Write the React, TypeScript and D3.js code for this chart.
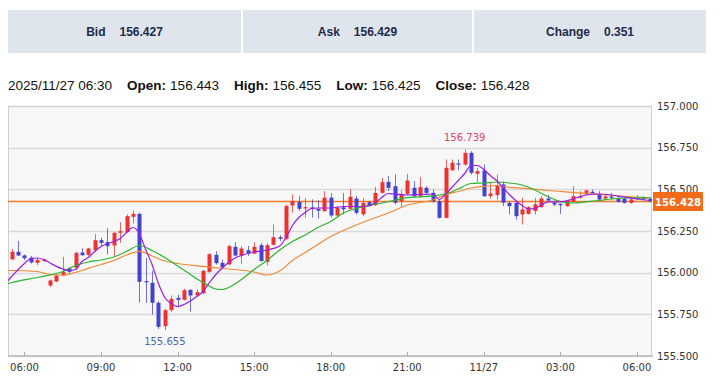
import React from "react";
import * as d3 from "d3";

const quoteLabels = ["Bid", "Ask", "Change"];
const quoteValues = ["156.427", "156.429", "0.351"];
const infoTime = "2025/11/27 06:30";
const infoLabels = ["Open:", "High:", "Low:", "Close:"];
const infoValues = ["156.443", "156.455", "156.425", "156.428"];
const yTicks = [155.5, 155.75, 156.0, 156.25, 156.5, 156.75, 157.0];

const startTime = new Date(2025, 10, 26, 5, 30);
const stepMinutes = 15;

const openV = [
  156.080, 156.125, 156.103, 156.090, 156.059, 156.069, 155.923, 155.947, 155.983, 156.025,
  156.029, 156.121, 156.107, 156.135, 156.195, 156.183, 156.163, 156.239, 156.243, 156.335,
  156.353, 155.949, 155.939, 155.819, 155.679, 155.775, 155.849, 155.837, 155.897, 155.863,
  155.877, 156.005, 156.107, 156.059, 156.050, 156.155, 156.103, 156.135, 156.115, 156.165,
  156.065, 156.167, 156.213, 156.203, 156.403, 156.425, 156.385, 156.392, 156.382, 156.370,
  156.450, 156.343, 156.392, 156.383, 156.445, 156.350, 156.423, 156.405, 156.479, 156.545,
  156.519, 156.429, 156.473, 156.509, 156.459, 156.509, 156.479, 156.429, 156.329, 156.615,
  156.655, 156.649, 156.719, 156.593, 156.613, 156.459, 156.465, 156.529, 156.419, 156.419,
  156.349, 156.353, 156.370, 156.393, 156.445, 156.419, 156.413, 156.399, 156.425, 156.449,
  156.469, 156.485, 156.473, 156.445, 156.457, 156.445, 156.445, 156.419, 156.449, 156.449,
  156.443,
];
const highV = [
  156.142, 156.190, 156.109, 156.100, 156.087, 156.083, 155.959, 155.989, 156.095, 156.033,
  156.125, 156.147, 156.149, 156.231, 156.209, 156.267, 156.243, 156.303, 156.349, 156.373,
  156.360, 156.089, 156.013, 155.829, 155.783, 155.863, 155.869, 155.903, 155.900, 155.900,
  156.017, 156.117, 156.129, 156.079, 156.169, 156.183, 156.159, 156.160, 156.183, 156.179,
  156.179, 156.289, 156.225, 156.409, 156.469, 156.459, 156.449, 156.440, 156.435, 156.489,
  156.477, 156.400, 156.478, 156.503, 156.460, 156.449, 156.430, 156.515, 156.569, 156.580,
  156.590, 156.493, 156.593, 156.549, 156.573, 156.519, 156.499, 156.440, 156.679, 156.679,
  156.679, 156.739, 156.729, 156.631, 156.649, 156.539, 156.589, 156.547, 156.425, 156.425,
  156.449, 156.399, 156.449, 156.459, 156.465, 156.433, 156.415, 156.433, 156.519, 156.489,
  156.499, 156.499, 156.489, 156.469, 156.479, 156.459, 156.453, 156.445, 156.465, 156.459,
  156.455,
];
const lowV = [
  156.075, 156.100, 156.075, 156.055, 156.045, 156.065, 155.913, 155.943, 155.979, 155.995,
  156.023, 156.099, 156.101, 156.129, 156.159, 156.109, 156.101, 156.179, 156.239, 156.295,
  155.820, 155.819, 155.749, 155.662, 155.655, 155.765, 155.793, 155.833, 155.765, 155.855,
  155.870, 155.999, 156.049, 156.025, 156.043, 156.099, 156.053, 156.100, 156.111, 156.065,
  156.043, 156.163, 156.190, 156.195, 156.360, 156.370, 156.330, 156.330, 156.326, 156.364,
  156.331, 156.330, 156.350, 156.378, 156.348, 156.338, 156.400, 156.399, 156.475, 156.490,
  156.410, 156.393, 156.465, 156.449, 156.455, 156.469, 156.419, 156.325, 156.325, 156.609,
  156.615, 156.639, 156.589, 156.543, 156.455, 156.445, 156.439, 156.400, 156.350, 156.318,
  156.289, 156.349, 156.349, 156.389, 156.425, 156.399, 156.353, 156.395, 156.421, 156.445,
  156.465, 156.473, 156.433, 156.439, 156.439, 156.421, 156.415, 156.413, 156.437, 156.435,
  156.425,
];
const closeV = [
  156.125, 156.103, 156.087, 156.061, 156.077, 156.079, 155.953, 155.983, 156.003, 156.005,
  156.119, 156.105, 156.145, 156.195, 156.179, 156.159, 156.239, 156.249, 156.339, 156.353,
  155.945, 155.943, 155.819, 155.675, 155.775, 155.843, 155.837, 155.895, 155.863, 155.883,
  156.011, 156.111, 156.057, 156.033, 156.159, 156.103, 156.145, 156.115, 156.155, 156.070,
  156.165, 156.213, 156.203, 156.400, 156.430, 156.383, 156.393, 156.382, 156.372, 156.450,
  156.343, 156.389, 156.380, 156.455, 156.359, 156.419, 156.403, 156.479, 156.543, 156.509,
  156.420, 156.473, 156.553, 156.459, 156.513, 156.479, 156.429, 156.329, 156.629, 156.659,
  156.649, 156.719, 156.599, 156.609, 156.459, 156.475, 156.525, 156.420, 156.399, 156.339,
  156.379, 156.393, 156.410, 156.445, 156.433, 156.409, 156.405, 156.429, 156.459, 156.459,
  156.493, 156.477, 156.439, 156.457, 156.449, 156.425, 156.419, 156.439, 156.441, 156.441,
  156.428,
];

// Moving averages at candle indices
const purpleIdx = [-1, 0, 2, 3, 4, 5, 6, 8, 9, 10, 11, 12, 13, 14, 16, 17, 18, 19, 20, 21, 22, 23, 24, 25, 26, 27, 28, 29, 30, 31, 32, 33, 34, 35, 36, 38, 40, 42, 43, 44, 45, 46, 47, 48, 50, 52, 54, 56, 57, 58, 59, 60, 62, 64, 66, 67, 68, 69, 70, 71, 72, 73, 74, 75, 76, 77, 78, 79, 80, 81, 82, 83, 84, 86, 88, 90, 92, 94, 96, 98, 100];
const purpleVal = [155.935, 155.977, 156.055, 156.085, 156.088, 156.079, 156.058, 156.022, 156.013, 156.019, 156.067, 156.091, 156.127, 156.157, 156.187, 156.205, 156.241, 156.271, 156.235, 156.139, 156.049, 155.935, 155.851, 155.815, 155.797, 155.809, 155.830, 155.857, 155.887, 155.941, 155.989, 156.028, 156.061, 156.088, 156.103, 156.124, 156.136, 156.160, 156.211, 156.283, 156.331, 156.361, 156.385, 156.388, 156.388, 156.397, 156.397, 156.400, 156.421, 156.451, 156.475, 156.472, 156.466, 156.469, 156.472, 156.439, 156.470, 156.511, 156.553, 156.595, 156.643, 156.643, 156.619, 156.583, 156.553, 156.511, 156.469, 156.433, 156.403, 156.382, 156.385, 156.406, 156.424, 156.425, 156.442, 156.466, 156.472, 156.466, 156.454, 156.442, 156.433];
const greenIdx = [-1, 0, 4, 8, 10, 12, 14, 16, 18, 20, 22, 24, 26, 28, 30, 32, 33, 34, 36, 38, 40, 42, 44, 46, 48, 50, 52, 54, 56, 58, 60, 62, 64, 66, 68, 70, 72, 74, 76, 78, 80, 82, 84, 86, 88, 90, 92, 94, 96, 98, 100];
const greenVal = [155.929, 155.941, 155.971, 156.007, 156.043, 156.064, 156.076, 156.094, 156.127, 156.163, 156.133, 156.091, 156.040, 155.989, 155.941, 155.902, 155.899, 155.911, 155.959, 156.019, 156.073, 156.136, 156.187, 156.226, 156.271, 156.307, 156.358, 156.385, 156.403, 156.418, 156.434, 156.450, 156.455, 156.461, 156.472, 156.502, 156.535, 156.538, 156.544, 156.538, 156.526, 156.496, 156.457, 156.427, 156.418, 156.425, 156.433, 156.442, 156.448, 156.449, 156.449];
const orangeIdx = [-1, 0, 4, 6, 8, 10, 12, 14, 16, 18, 20, 22, 24, 26, 30, 34, 38, 40, 42, 44, 46, 48, 50, 52, 54, 56, 58, 60, 62, 64, 66, 68, 70, 72, 74, 76, 78, 80, 84, 88, 92, 96, 100];
const orangeVal = [156.013, 156.013, 156.007, 155.989, 155.986, 156.001, 156.026, 156.049, 156.073, 156.106, 156.128, 156.100, 156.070, 156.055, 156.038, 156.022, 156.004, 155.986, 156.010, 156.073, 156.121, 156.169, 156.217, 156.253, 156.286, 156.316, 156.343, 156.373, 156.406, 156.421, 156.436, 156.469, 156.487, 156.508, 156.518, 156.523, 156.512, 156.507, 156.493, 156.482, 156.470, 156.458, 156.449];

const UP = "#ee3232";
const DOWN = "#4343cf";

export default function App() {
  const W = 720, H = 379;
  const left = 8, right = 652, top = 106, bottom = 356;
  const timeAt = (i: number) => new Date(startTime.getTime() + i * stepMinutes * 60000);
  const x = d3.scaleTime().domain([timeAt(-0.58), timeAt(100.36)]).range([left, right]);
  const y = d3.scaleLinear().domain([155.5, 157.0]).range([bottom, top]);
  const fmtTick = (d: Date) => (d.getHours() === 0 ? d3.timeFormat("%m/%d")(d) : d3.timeFormat("%H:%M")(d));
  const xTicks = x.ticks(d3.timeHour.every(3) as any);

  const maLine = (idx: number[], val: number[]) =>
    d3.line<number>().x((_, k) => x(timeAt(idx[k]))).y((v) => y(v)).curve(d3.curveMonotoneX)(val) || "";

  const hiI = d3.maxIndex(highV);
  const loI = d3.minIndex(lowV);
  const last = closeV[closeV.length - 1];
  const yLast = Math.round(y(last)) + 0.5;

  const boxes = [
    { x0: 8, x1: 241 },
    { x0: 243, x1: 472 },
    { x0: 474, x1: 706 },
  ];
  const axisFont = "'DejaVu Sans', Verdana, sans-serif";
  const uiFont = "'Liberation Sans', Arial, sans-serif";

  return (
    <svg width={W} height={H} style={{ position: "absolute", left: 0, top: 0, background: "#fff" }}>
      {boxes.map((b, k) => (
        <g key={k}>
          <rect x={b.x0} y={10} width={b.x1 - b.x0} height={43} fill="#dee5ec" />
          <text x={(b.x0 + b.x1) / 2} y={36} textAnchor="middle" fontFamily={uiFont} fontWeight="bold" fontSize={12} fill="#1e2b4a">
            <tspan>{quoteLabels[k]}</tspan>
            <tspan dx={14}>{quoteValues[k]}</tspan>
          </text>
        </g>
      ))}
      <text x={8} y={90} fontFamily={uiFont} fontSize={13.5} fill="#111">
        <tspan>{infoTime}</tspan>
        {infoLabels.map((l, k) => (
          <React.Fragment key={k}>
            <tspan dx={15} fontWeight="bold">{l}</tspan>
            <tspan dx={4}>{infoValues[k]}</tspan>
          </React.Fragment>
        ))}
      </text>

      <defs>
        <clipPath id="plotClip">
          <rect x={left} y={top} width={right - left} height={bottom - top} />
        </clipPath>
      </defs>
      <rect x={left} y={top} width={right - left} height={bottom - top} fill="#f7f7f7" />
      {yTicks.map((v) => (
        <line key={v} x1={left} x2={right} y1={Math.round(y(v)) + 0.5} y2={Math.round(y(v)) + 0.5} stroke="#d9d9d9" strokeWidth={1.5} />
      ))}
      <rect x={left + 0.5} y={top + 0.5} width={right - left - 1} height={bottom - top - 1} fill="none" stroke="#cfcfcf" strokeWidth={1} />
      <line x1={left} x2={right + 1} y1={bottom} y2={bottom} stroke="#c4c4c4" strokeWidth={2} />
      {xTicks.map((d, k) => (
        <g key={k}>
          <line x1={Math.round(x(d)) + 0.5} x2={Math.round(x(d)) + 0.5} y1={bottom - 4} y2={bottom} stroke="#aaa" />
          <text x={x(d)} y={371} textAnchor="middle" fontFamily={axisFont} fontSize={10} fill="#333">
            {fmtTick(d)}
          </text>
        </g>
      ))}
      {yTicks.map((v) => (
        <text key={v} x={657} y={y(v) + 3.6} fontFamily={axisFont} fontSize={10} fill="#333">
          {v.toFixed(3)}
        </text>
      ))}

      <g clipPath="url(#plotClip)">
        <line x1={left} x2={right} y1={yLast} y2={yLast} stroke="#f47a2c" strokeWidth={1.3} />
        {closeV.map((c, i) => {
          const o = openV[i];
          const xc = Math.round(x(timeAt(i)));
          const col = c >= o ? UP : DOWN;
          const yt = y(Math.max(o, c));
          const yb = y(Math.min(o, c));
          return (
            <g key={i}>
              <line x1={xc + 0.5} x2={xc + 0.5} y1={y(highV[i])} y2={y(lowV[i])} stroke={col} strokeWidth={1} opacity={0.75} />
              <rect x={xc - 1.5} y={yt} width={4} height={Math.max(1.2, yb - yt)} fill={col} />
            </g>
          );
        })}
        <path d={maLine(orangeIdx, orangeVal)} fill="none" stroke="#ef8a33" strokeWidth={1.2} />
        <path d={maLine(greenIdx, greenVal)} fill="none" stroke="#2bb52b" strokeWidth={1.2} />
        <path d={maLine(purpleIdx, purpleVal)} fill="none" stroke="#9a1ee6" strokeWidth={1.2} />
      </g>

      <text x={x(timeAt(hiI))} y={y(highV[hiI]) - 8.5} textAnchor="middle" fontFamily={axisFont} fontSize={10} fill="#e0406c">
        {highV[hiI].toFixed(3)}
      </text>
      <text x={x(timeAt(loI))} y={y(lowV[loI]) + 15} textAnchor="middle" fontFamily={axisFont} fontSize={10} fill="#4a68a8">
        {lowV[loI].toFixed(3)}
      </text>

      <rect x={653} y={yLast - 9.5} width={50} height={19} fill="#f26b1a" />
      <text x={678} y={yLast + 4} textAnchor="middle" fontFamily={axisFont} fontWeight="bold" fontSize={10.2} fill="#fff">
        {last.toFixed(3)}
      </text>
    </svg>
  );
}
